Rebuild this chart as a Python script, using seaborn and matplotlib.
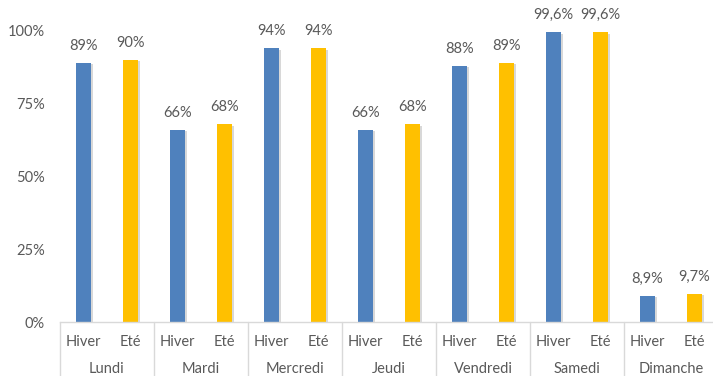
import matplotlib
matplotlib.use("Agg")
import matplotlib.pyplot as plt
import matplotlib.patheffects as pe
import seaborn as sns
import pandas as pd

days = ["Lundi", "Mardi", "Mercredi", "Jeudi", "Vendredi", "Samedi", "Dimanche"]
seasons = ["Hiver", "Eté"]
hiver = [89, 66, 94, 66, 88, 99.6, 8.9]
ete = [90, 68, 94, 68, 89, 99.6, 9.7]
labels_hiver = ["89%", "66%", "94%", "66%", "88%", "99,6%", "8,9%"]
labels_ete = ["90%", "68%", "94%", "68%", "89%", "99,6%", "9,7%"]
yticks = [0, 25, 50, 75, 100]
ytick_labels = ["0%", "25%", "50%", "75%", "100%"]

rows = []
for d, h, e, lh, le in zip(days, hiver, ete, labels_hiver, labels_ete):
    rows.append({"slot": f"{d}|Hiver", "day": d, "season": "Hiver", "value": h, "label": lh})
    rows.append({"slot": f"{d}|Eté", "day": d, "season": "Eté", "value": e, "label": le})
df = pd.DataFrame(rows)

sns.set_theme(style="white")
plt.rcParams["font.family"] = ["Lato", "DejaVu Sans"]
TXT = "#595959"
LINE = "#D9D9D9"
FS = 10.5

fig = plt.figure(figsize=(7.13, 3.76), dpi=100)
W, H = 713, 376
left, right, bottom, top = 60, 718, 322, 31
ax = fig.add_axes([left / W, 1 - bottom / H, (right - left) / W, (bottom - top) / H])

sns.barplot(data=df, x="slot", y="value", hue="season", order=list(df["slot"]),
            hue_order=seasons, palette={"Hiver": "#4F81BD", "Eté": "#FFC000"},
            dodge=False, width=0.3, legend=False, ax=ax, saturation=1,
            linewidth=0, edgecolor="none")

for p in ax.patches:
    p.set_linewidth(0)
    p.set_path_effects([pe.SimplePatchShadow(offset=(2, -1), shadow_rgbFace="#7f7f7f", alpha=0.3),
                        pe.Normal()])

ax.set_xlim(-0.5, len(df) - 0.5)
ax.set_ylim(0, 100)
ax.set_yticks(yticks)
ax.set_yticklabels(ytick_labels, color=TXT, fontsize=FS)
ax.tick_params(axis="y", length=0, pad=11)
ax.set_xticks([])
ax.set_xlabel("")
ax.set_ylabel("")
for s in ["top", "right", "left"]:
    ax.spines[s].set_visible(False)
ax.spines["bottom"].set_color(LINE)
ax.spines["bottom"].set_linewidth(1)

# data labels
for i, (v, lab) in enumerate(zip(df["value"], df["label"])):
    ax.annotate(lab, (i, v), xytext=(0, 17), textcoords="offset pixels",
                ha="center", va="center", color=TXT, fontsize=FS, annotation_clip=False)

# two-level category axis
trans = ax.get_xaxis_transform()
for g in range(len(days) + 1):
    x = g * 2 - 0.5
    ax.plot([x, x], [0, -(H - bottom) / (bottom - top)], transform=trans,
            color=LINE, lw=1, clip_on=False)
off_inner = -(342 - bottom) / (bottom - top)
off_outer = -(369 - bottom) / (bottom - top)
for i, s in enumerate(df["season"]):
    ax.text(i, off_inner, s, transform=trans, ha="center", va="center", color=TXT, fontsize=FS)
for g, d in enumerate(days):
    ax.text(g * 2 + 0.5, off_outer, d, transform=trans, ha="center", va="center", color=TXT, fontsize=FS)

fig.savefig("out.png", dpi=100)
